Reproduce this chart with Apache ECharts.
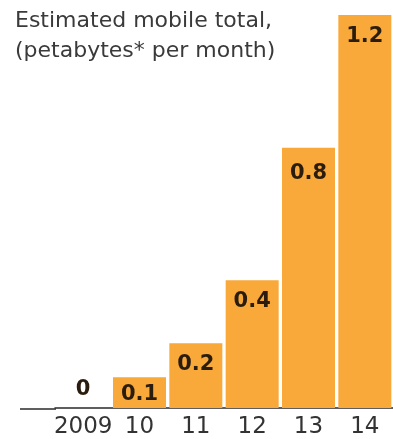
<!DOCTYPE html>
<html><head><meta charset="utf-8">
<script src="https://cdn.jsdelivr.net/npm/echarts@6/dist/echarts.min.js"></script>
<style>html,body{margin:0;padding:0;background:#fff}#c{width:393px;height:439px}</style>
</head><body><div id="c"></div>
<script>
const categories = ['2009', '10', '11', '12', '13', '14'];
const values = [0, 0.094, 0.198, 0.39, 0.795, 1.2];
const valueLabels = ['0', '0.1', '0.2', '0.4', '0.8', '1.2'];
const titleLines = ['Estimated mobile total,', '(petabytes* per month)'];

const FONT = 'DejaVu Sans';
const chart = echarts.init(document.getElementById('c'));
chart.setOption({
  animation: false,
  title: {
    text: titleLines.join('\n'),
    left: 10, top: 1,
    textStyle: { fontFamily: FONT, fontSize: 22, fontWeight: 'normal', color: '#3a3a3a', lineHeight: 30 }
  },
  grid: { left: 55, right: -1, top: 15, bottom: 30 },
  xAxis: {
    type: 'category', data: categories,
    axisLine: { lineStyle: { color: '#2a2a2a', width: 1.5 } },
    axisTick: { show: false },
    axisLabel: { interval: 0, fontFamily: FONT, fontSize: 23, color: '#333', margin: 8 }
  },
  yAxis: { type: 'value', min: 0, max: 1.2, show: false, splitLine: { show: false } },
  series: [{
    type: 'bar',
    data: values.map((v, i) => ({
      value: v,
      label: i === 0 ? { position: 'top', distance: 8 } : (i === 1 ? { distance: 7 } : (i === 4 ? { distance: 15 } : undefined))
    })),
    barWidth: 53,
    itemStyle: { color: '#F9A93A' },
    label: {
      show: true, position: 'insideTop', distance: 11,
      fontFamily: FONT, fontSize: 21, fontWeight: 'bold', color: '#2b1d0e',
      formatter: p => valueLabels[p.dataIndex]
    }
  }],
  graphic: [{
    type: 'line', shape: { x1: 20, y1: 409, x2: 56, y2: 409 },
    style: { stroke: '#2a2a2a', lineWidth: 1.5 }
  }]
});
</script></body></html>
